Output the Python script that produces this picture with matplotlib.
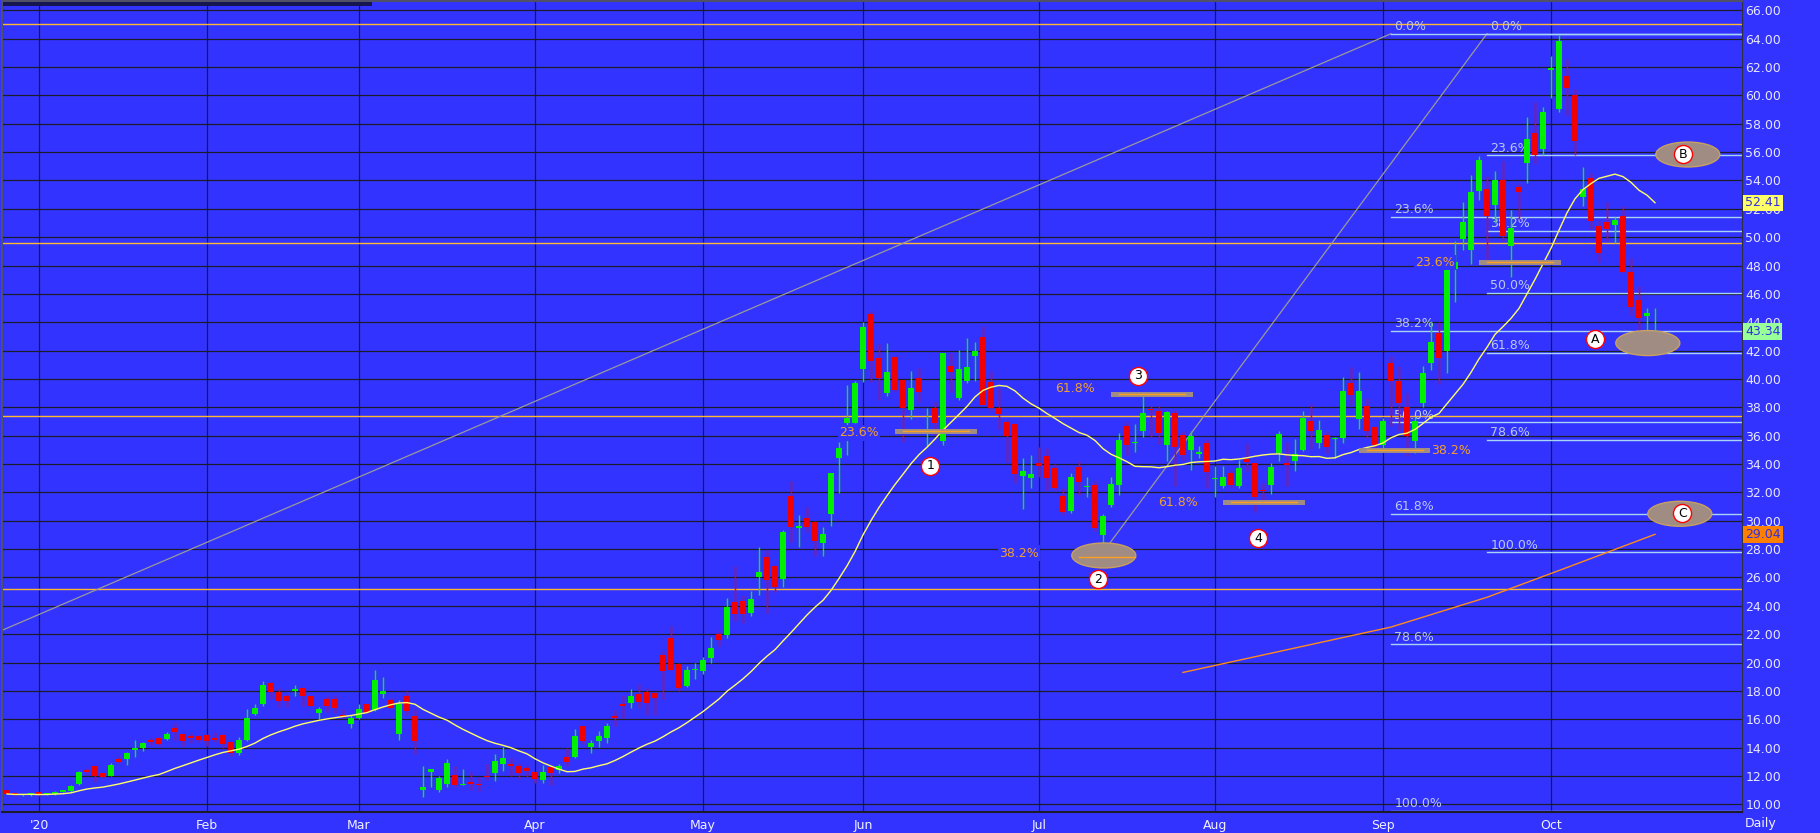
import numpy as np
import pandas as pd
import matplotlib
matplotlib.use("Agg")
import matplotlib.pyplot as plt
from matplotlib.patches import Ellipse, Rectangle

# daily bars, index 0 = 2019-12-26 ... index 206 = 2020-10-20
opens = [10.99, 10.80, 10.66, 10.68, 10.85, 10.68, 10.73, 10.89, 10.92, 11.44,
         12.44, 12.71, 12.19, 12.00, 13.18, 13.20, 13.86, 13.98, 14.54, 14.68,
         14.61, 15.39, 14.94, 14.85, 14.82, 14.89, 14.70, 14.87, 14.40, 13.62,
         14.54, 16.40, 17.10, 18.52, 17.93, 17.62, 18.00, 18.19, 17.62, 16.42,
         17.44, 17.41, 16.33, 15.65, 16.09, 17.06, 16.68, 17.79, 17.39, 14.99,
         17.67, 16.26, 11.02, 12.28, 11.01, 11.43, 12.07, 11.36, 11.60, 11.46,
         12.02, 12.23, 12.87, 12.84, 12.73, 12.56, 12.28, 11.74, 12.63, 12.40,
         13.31, 13.36, 15.52, 14.07, 14.47, 14.70, 16.25, 17.08, 17.15, 17.78,
         17.95, 17.83, 20.51, 21.73, 19.92, 18.37, 19.47, 19.43, 20.32, 22.01,
         21.94, 24.29, 24.36, 23.47, 26.06, 27.47, 26.83, 25.87, 31.72, 29.50,
         30.19, 29.89, 28.41, 30.45, 34.42, 36.87, 36.92, 40.68, 44.56, 41.48,
         38.98, 41.57, 39.93, 37.81, 40.07, 36.19, 37.93, 35.65, 40.91, 38.63,
         39.83, 41.62, 42.98, 39.76, 37.95, 36.99, 36.85, 33.13, 32.99, 34.07,
         34.59, 33.72, 31.72, 30.71, 33.81, 32.36, 32.55, 29.02, 31.13, 32.54,
         36.70, 35.45, 36.31, 37.88, 37.74, 35.32, 37.60, 36.07, 35.01, 34.71,
         35.48, 32.92, 32.43, 33.37, 32.43, 34.38, 34.07, 32.19, 32.50, 34.78,
         34.07, 34.19, 35.01, 37.06, 35.48, 36.07, 35.74, 35.83, 39.71, 37.20,
         38.07, 36.61, 35.36, 41.12, 39.83, 38.04, 35.60, 38.30, 41.10, 43.26,
         41.99, 47.77, 49.87, 49.10, 53.28, 53.38, 52.29, 54.03, 49.40, 53.56,
         55.25, 57.32, 56.22, 61.80, 59.01, 61.36, 60.00, 52.85, 54.19, 50.78,
         51.09, 50.83, 51.49, 47.52, 45.57, 44.47, 43.10]
highs = [11.02, 10.84, 10.74, 10.78, 10.88, 10.76, 10.92, 10.98, 11.35, 12.33,
         12.55, 12.71, 12.24, 12.92, 13.38, 13.70, 14.50, 14.38, 14.68, 14.75,
         15.07, 15.72, 14.99, 15.00, 14.87, 14.94, 15.08, 14.94, 14.45, 14.78,
         16.70, 17.09, 18.70, 18.64, 18.18, 17.80, 18.38, 18.28, 17.66, 16.87,
         17.65, 17.72, 16.71, 16.33, 17.04, 17.10, 19.50, 18.99, 17.49, 17.39,
         18.00, 16.70, 12.70, 12.47, 12.03, 13.18, 12.70, 12.46, 12.25, 11.95,
         12.83, 13.57, 14.05, 13.27, 12.91, 12.75, 12.30, 12.77, 12.65, 12.82,
         13.94, 15.29, 15.55, 14.52, 15.15, 15.76, 16.63, 17.73, 18.10, 18.50,
         18.22, 17.90, 20.79, 22.55, 19.95, 19.75, 20.00, 20.36, 21.82, 22.24,
         24.55, 26.83, 24.79, 25.07, 28.17, 27.94, 26.90, 29.35, 32.83, 30.43,
         30.99, 29.95, 29.53, 33.40, 35.58, 39.57, 39.88, 43.99, 44.81, 42.46,
         42.51, 41.60, 39.95, 40.58, 40.75, 37.96, 38.40, 41.85, 41.81, 42.04,
         42.86, 42.58, 43.76, 40.54, 39.36, 37.10, 36.87, 34.40, 34.64, 35.18,
         35.11, 34.00, 32.29, 33.37, 34.24, 33.11, 32.83, 30.50, 33.06, 36.19,
         36.99, 36.85, 38.84, 38.07, 38.11, 37.76, 37.83, 36.30, 36.35, 35.30,
         35.76, 33.84, 33.84, 33.60, 34.31, 35.48, 34.10, 32.66, 34.07, 36.30,
         35.53, 35.76, 37.71, 38.26, 37.13, 36.30, 35.90, 40.14, 40.84, 40.49,
         38.66, 36.65, 37.25, 41.60, 40.94, 39.00, 37.30, 40.90, 44.08, 44.00,
         48.40, 49.70, 52.50, 54.40, 55.72, 54.30, 54.70, 55.40, 51.90, 53.80,
         58.50, 59.55, 59.15, 62.77, 64.25, 62.54, 60.42, 54.97, 54.50, 51.16,
         52.50, 51.44, 52.20, 48.55, 46.56, 44.98, 44.98]
lows = [10.70, 10.62, 10.60, 10.62, 10.62, 10.64, 10.68, 10.85, 10.87, 11.37,
        12.07, 11.54, 11.82, 12.00, 12.92, 12.76, 13.34, 13.76, 14.20, 14.14,
        14.54, 14.56, 14.14, 14.31, 14.40, 14.12, 14.40, 14.00, 13.39, 13.48,
        14.47, 16.30, 16.96, 17.40, 16.87, 16.87, 17.65, 16.90, 16.90, 16.00,
        16.54, 16.47, 16.07, 15.41, 16.02, 16.47, 16.56, 17.51, 16.73, 14.52,
        16.30, 13.55, 10.51, 11.23, 10.87, 11.20, 11.22, 11.36, 11.03, 10.96,
        11.71, 11.62, 12.37, 12.02, 11.76, 11.95, 11.48, 11.48, 11.37, 12.23,
        12.70, 13.24, 14.28, 13.62, 14.07, 14.35, 15.52, 16.06, 16.77, 16.77,
        16.30, 16.30, 17.43, 19.45, 18.02, 18.30, 18.86, 19.17, 19.96, 21.18,
        21.73, 22.90, 22.80, 23.30, 24.76, 23.49, 24.95, 25.30, 28.48, 28.17,
        29.23, 27.54, 27.54, 29.60, 31.96, 34.64, 36.90, 39.81, 39.81, 38.51,
        38.77, 39.10, 35.53, 37.17, 38.40, 35.25, 36.07, 35.36, 39.10, 38.51,
        39.69, 39.88, 38.15, 37.72, 36.47, 34.16, 32.66, 30.80, 32.29, 33.06,
        32.17, 32.17, 30.43, 30.55, 31.81, 31.70, 29.30, 27.70, 31.00, 31.79,
        34.64, 34.87, 35.91, 35.91, 35.40, 34.19, 32.43, 34.31, 33.60, 34.42,
        32.31, 31.65, 32.30, 32.30, 32.30, 33.48, 30.59, 31.25, 31.90, 34.19,
        32.43, 33.48, 34.89, 35.06, 35.10, 34.80, 34.40, 35.48, 38.18, 36.49,
        35.83, 34.89, 35.13, 36.70, 36.30, 34.54, 34.80, 38.00, 40.64, 39.67,
        40.40, 45.40, 49.10, 48.10, 52.62, 48.20, 51.00, 49.70, 47.16, 51.30,
        53.84, 55.20, 55.79, 59.79, 58.80, 58.61, 55.79, 52.20, 50.55, 48.27,
        49.70, 49.56, 47.50, 44.50, 43.00, 41.80, 42.39]
closes = [10.73, 10.66, 10.70, 10.72, 10.64, 10.72, 10.87, 10.94, 11.29, 12.26,
          12.31, 12.00, 11.93, 12.75, 12.99, 13.60, 13.90, 14.30, 14.40, 14.28,
          14.99, 15.13, 14.47, 14.70, 14.54, 14.47, 14.56, 14.28, 13.65, 14.54,
          16.07, 16.82, 18.38, 17.93, 17.29, 17.29, 18.05, 17.65, 16.94, 16.71,
          16.94, 16.80, 16.19, 16.09, 16.71, 16.47, 18.75, 17.98, 16.80, 17.06,
          16.59, 14.45, 11.21, 12.47, 11.85, 12.91, 11.36, 11.43, 11.46, 11.34,
          11.90, 13.06, 13.27, 12.73, 12.21, 12.35, 11.79, 12.28, 12.21, 12.70,
          13.01, 14.82, 14.47, 14.35, 14.82, 15.52, 16.11, 16.96, 17.64, 17.24,
          17.15, 17.52, 19.38, 19.50, 18.23, 19.47, 19.54, 20.15, 21.02, 21.61,
          23.94, 23.42, 23.42, 24.48, 26.36, 25.82, 25.30, 29.23, 29.53, 29.60,
          29.53, 28.55, 29.06, 33.37, 35.11, 37.25, 39.71, 43.69, 41.24, 40.09,
          40.51, 39.24, 37.93, 39.36, 39.08, 36.30, 36.87, 41.81, 40.51, 40.70,
          40.87, 41.99, 38.18, 37.95, 37.53, 36.00, 33.27, 33.53, 33.27, 33.84,
          32.99, 32.33, 30.62, 33.11, 32.76, 32.45, 29.46, 30.31, 32.61, 35.72,
          35.36, 35.50, 37.60, 37.79, 36.19, 37.65, 35.18, 34.66, 36.00, 34.85,
          33.41, 32.97, 33.11, 32.54, 33.72, 34.12, 31.67, 32.07, 33.79, 36.14,
          33.95, 34.71, 37.27, 36.30, 36.42, 35.18, 35.86, 39.17, 38.89, 39.17,
          36.35, 35.36, 37.01, 39.88, 38.30, 36.00, 37.00, 40.42, 42.63, 41.50,
          47.68, 48.22, 51.07, 53.16, 55.44, 51.51, 54.03, 50.10, 50.64, 53.21,
          56.90, 55.79, 58.85, 61.85, 63.83, 60.54, 56.78, 53.37, 51.16, 48.86,
          50.60, 51.21, 47.56, 45.08, 44.27, 44.63, 43.34]

month_idx = [4, 25, 44, 66, 87, 107, 129, 151, 172, 193]
month_labels = ["'20", "Feb", "Mar", "Apr", "May", "Jun", "Jul", "Aug", "Sep", "Oct"]

long_ma_idx = [147, 160, 173, 185, 195, 206]
long_ma_val = [19.3, 20.9, 22.5, 24.6, 26.7, 29.04]

# full width horizontal lines (orange)
h_levels = [65.0, 49.57, 37.42, 25.17]

# fibonacci retracements: start bar, level values, labels
fib_labels = ["0.0%", "23.6%", "38.2%", "50.0%", "61.8%", "78.6%", "100.0%"]
fib1_start = 173
fib1_levels = [64.35, 51.41, 43.40, 36.94, 30.49, 21.28, 9.53]
fib2_start = 185
fib2_levels = [64.35, 55.77, 50.43, 46.08, 41.85, 35.69, 27.77]

# trend lines (start bar, start value, end bar, end value)
trend_lines = [(-0.54, 22.29, 173, 64.35), (137, 27.77, 185, 64.35)]

# orange projection labels and their bars
proj_text = [("23.6%", 104.0, 36.2), ("61.8%", 131.0, 39.3), ("61.8%", 143.9, 31.28),
             ("38.2%", 124.0, 27.72), ("23.6%", 176.0, 48.23), ("38.2%", 178.0, 34.95)]
proj_bars = [(111, 121.25, 36.3), (138, 148.25, 38.91), (152, 162.25, 31.3),
             (184, 194.25, 48.2), (169, 178, 34.97)]

# marked areas (ellipses) and wave labels
ellipses = [(137.1, 27.55), (205.1, 42.53), (210.1, 55.83), (209.1, 30.49)]
wave_names = ["1", "2", "3", "4", "A", "B", "C"]
wave_x = [115.4, 136.4, 141.4, 156.4, 198.5, 209.5, 209.4]
wave_y = [33.88, 25.87, 40.23, 28.76, 42.79, 55.86, 30.54]

# last values shown on the price scale
last_vals = [("52.41", 52.41, "#ffff66"), ("43.34", 43.34, "#99ff99"), ("29.04", 29.04, "#ff8000")]

BG = "#3333ff"
plt.rcParams['font.family'] = ['DejaVu Sans']

fig = plt.figure(figsize=(18.2, 8.33), dpi=100, facecolor=BG)
ax = fig.add_axes([2 / 1820, 21 / 833, 1740 / 1820, 811 / 833])
ax.set_facecolor(BG)
ax.set_xlim(-0.625, 216.875)
ax.set_ylim(9.457, 66.656)

# grid
ax.set_yticks(np.arange(10, 67, 2))
ax.yaxis.tick_right()
ax.yaxis.set_major_formatter(matplotlib.ticker.FormatStrFormatter('%.2f'))
ax.set_xticks(month_idx)
ax.set_xticklabels(month_labels)
ax.grid(True, color='#1c1c2a', lw=0.9)
ax.set_axisbelow(True)
ax.tick_params(axis='y', length=0, pad=2.5, labelsize=9, labelcolor='#e6e6ff')
ax.tick_params(axis='x', length=0, pad=5, labelsize=9, labelcolor='#f0f0ff')
for s in ['left', 'top']:
    ax.spines[s].set_color('#505068')
    ax.spines[s].set_linewidth(1.5)
ax.spines['right'].set_color('#303040')
ax.spines['bottom'].set_color('#1c1c2a')
ax.spines['bottom'].set_linewidth(1.5)

# horizontal orange lines
for lv in h_levels:
    ax.axhline(lv, color='#ffb830', lw=1, zorder=2)

# trend lines
for x0, y0, x1, y1 in trend_lines:
    ax.plot([x0, x1], [y0, y1], color='#9a9a9a', lw=0.9, zorder=2)

# fibonacci lines
for start, levels in [(fib1_start, fib1_levels), (fib2_start, fib2_levels)]:
    for lv, lab in zip(levels, fib_labels):
        ax.plot([start, 216.875], [lv, lv], color='#a8d4f4', lw=1, zorder=2)
        ax.text(start + 0.4, lv + 0.05, lab, color='#b8c8e8', fontsize=9,
                ha='left', va='bottom', zorder=3)

# long MA
ax.plot(long_ma_idx, long_ma_val, color='#ff8c1a', lw=1, zorder=3)

# candles
df = pd.DataFrame({'Open': opens, 'High': highs, 'Low': lows, 'Close': closes})
idx = np.arange(len(df))
up = df['Close'] >= df['Open']
colors = np.where(up, '#00f000', '#f00000')
ax.vlines(idx, df['Low'], df['High'], colors=colors, lw=1, zorder=4)
body_lo = np.minimum(df['Open'], df['Close'])
body_h = np.maximum((df['Close'] - df['Open']).abs(), 0.1)
ax.bar(idx, body_h, bottom=body_lo, width=0.65, color=colors, lw=0, zorder=5)

# 20 day moving average
df['MA20'] = df['Close'].rolling(window=20, min_periods=1).mean()
ax.plot(idx, df['MA20'], color='#ffff66', lw=1, zorder=6)

# projection bars
for x0, x1, lv in proj_bars:
    ax.add_patch(Rectangle((x0, lv - 0.17), x1 - x0, 0.34, fc='#a08c82', ec='none', zorder=6))
    ax.plot([x0 + 1, x1 - 1], [lv + 0.05, lv + 0.05], color='#ffa020', lw=1, zorder=6)
for txt, x, y in proj_text:
    ax.text(x, y, txt, color='#f0a030', fontsize=9, ha='left', va='center', zorder=7,
            bbox=dict(boxstyle='square,pad=0.1', fc=BG, ec='none'))

# ellipses
for ex, ey in ellipses:
    ax.add_patch(Ellipse((ex, ey), 8.0, 1.76, fc='#a08c82', ec='#c8a060', lw=1, zorder=7))
ax.plot([134, 141], [27.45, 27.45], color='#ffa020', lw=1, zorder=7)

# wave labels
ax.scatter(wave_x, wave_y, s=170, c='white', edgecolors='red', linewidths=1, zorder=8)
for name, x, y in zip(wave_names, wave_x, wave_y):
    ax.text(x, y, name, color='black', fontsize=9, ha='center', va='center', zorder=9)

# last value boxes on the scale
for txt, v, col in last_vals:
    ax.annotate(txt, xy=(1, v), xycoords=('axes fraction', 'data'), xytext=(2.2, 0),
                textcoords='offset points', ha='left', va='center', fontsize=9,
                color='#3030e0', annotation_clip=False, zorder=10,
                bbox=dict(boxstyle='square,pad=0.15', fc=col, ec='none'))

fig.text(1745 / 1820, 1 - 824 / 833, 'Daily', color='#f0f0ff', fontsize=9, va='center', ha='left')
fig.patches.append(Rectangle((3 / 1820, 1 - 5.5 / 833), 369 / 1820, 3.5 / 833,
                             transform=fig.transFigure, fc='#161650', ec='none'))

fig.savefig('out.png', dpi=100, facecolor=BG)
